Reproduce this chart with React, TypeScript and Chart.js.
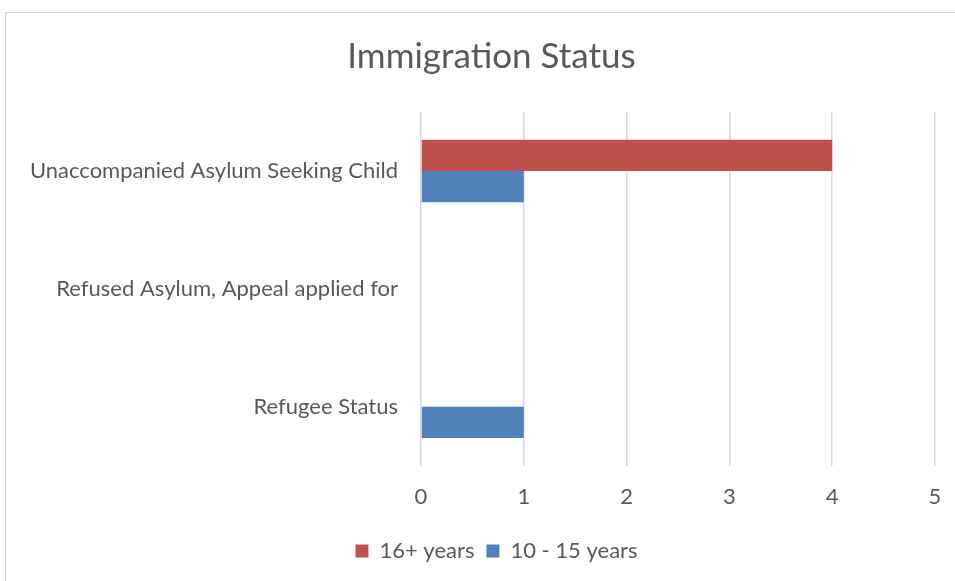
import React, { useEffect, useRef } from "react";
import { Chart, registerables } from "chart.js";

Chart.register(...registerables);

const categories = [
  "Unaccompanied Asylum Seeking Child",
  "Refused Asylum, Appeal applied for",
  "Refugee Status",
];
const series16Plus = [4, 0, 0];
const series10to15 = [1, 0, 1];
const seriesNames = ["16+ years", "10 - 15 years"];
const xTicks = [0, 1, 2, 3, 4, 5];

const FONT = "Lato, 'Liberation Sans', sans-serif";
const TEXT = "#595959";

const shiftBoxes = {
  id: "shiftBoxes",
  afterLayout(chart: any) {
    if (chart.titleBlock) {
      chart.titleBlock.left += 24;
      chart.titleBlock.right += 24;
    }
    if (chart.legend) {
      chart.legend.left += 29;
      chart.legend.right += 29;
    }
  },
};

export default function App() {
  const ref = useRef<HTMLCanvasElement>(null);
  useEffect(() => {
    const ctx = ref.current!;
    const chart = new Chart(ctx, {
      type: "bar",
      data: {
        labels: categories,
        datasets: [
          {
            label: seriesNames[0],
            data: series16Plus,
            backgroundColor: "#C0504D",
            barPercentage: 1,
            categoryPercentage: 0.53,
          },
          {
            label: seriesNames[1],
            data: series10to15,
            backgroundColor: "#4F81BD",
            barPercentage: 1,
            categoryPercentage: 0.53,
          },
        ],
      },
      plugins: [shiftBoxes],
      options: {
        indexAxis: "y",
        animation: false,
        responsive: false,
        maintainAspectRatio: false,
        layout: { padding: { left: 0, right: 20, top: 36, bottom: 9 } },
        plugins: {
          title: {
            display: true,
            text: "Immigration Status",
            color: TEXT,
            font: { family: FONT, size: 35, weight: "normal" },
            padding: { top: 0, bottom: 34 },
          },
          legend: {
            position: "bottom",
            labels: {
              color: TEXT,
              font: { family: FONT, size: 22 },
              boxWidth: 13,
              boxHeight: 13,
              padding: 12,
            },
          },
          tooltip: { enabled: false },
        },
        scales: {
          x: {
            min: 0,
            max: 5,
            afterBuildTicks: (s: any) => {
              s.ticks = xTicks.map((v) => ({ value: v }));
            },
            afterFit: (s: any) => {
              s.paddingLeft = 0;
              s.paddingRight = 0;
            },
            grid: { color: "#D9D9D9", lineWidth: 1.5, drawTicks: false },
            border: { display: false },
            ticks: {
              color: TEXT,
              font: { family: FONT, size: 22 },
              padding: 18,
            },
          },
          y: {
            grid: { display: false, drawTicks: false },
            border: { display: false },
            ticks: {
              color: TEXT,
              font: { family: FONT, size: 22 },
              padding: 23,
            },
            afterFit: (s: any) => {
              s.width = 421;
            },
          },
        },
      },
    });
    return () => chart.destroy();
  }, []);
  return (
    <div style={{ position: "fixed", left: 0, top: 0, width: 955, height: 581, background: "#fff" }}>
      <div
        style={{
          position: "absolute",
          left: 5,
          top: 12,
          width: 960,
          height: 580,
          border: "1.5px solid #D9D9D9",
          boxSizing: "border-box",
        }}
      />
      <canvas ref={ref} width={955} height={581} style={{ position: "absolute", left: 0, top: 0 }} />
    </div>
  );
}
